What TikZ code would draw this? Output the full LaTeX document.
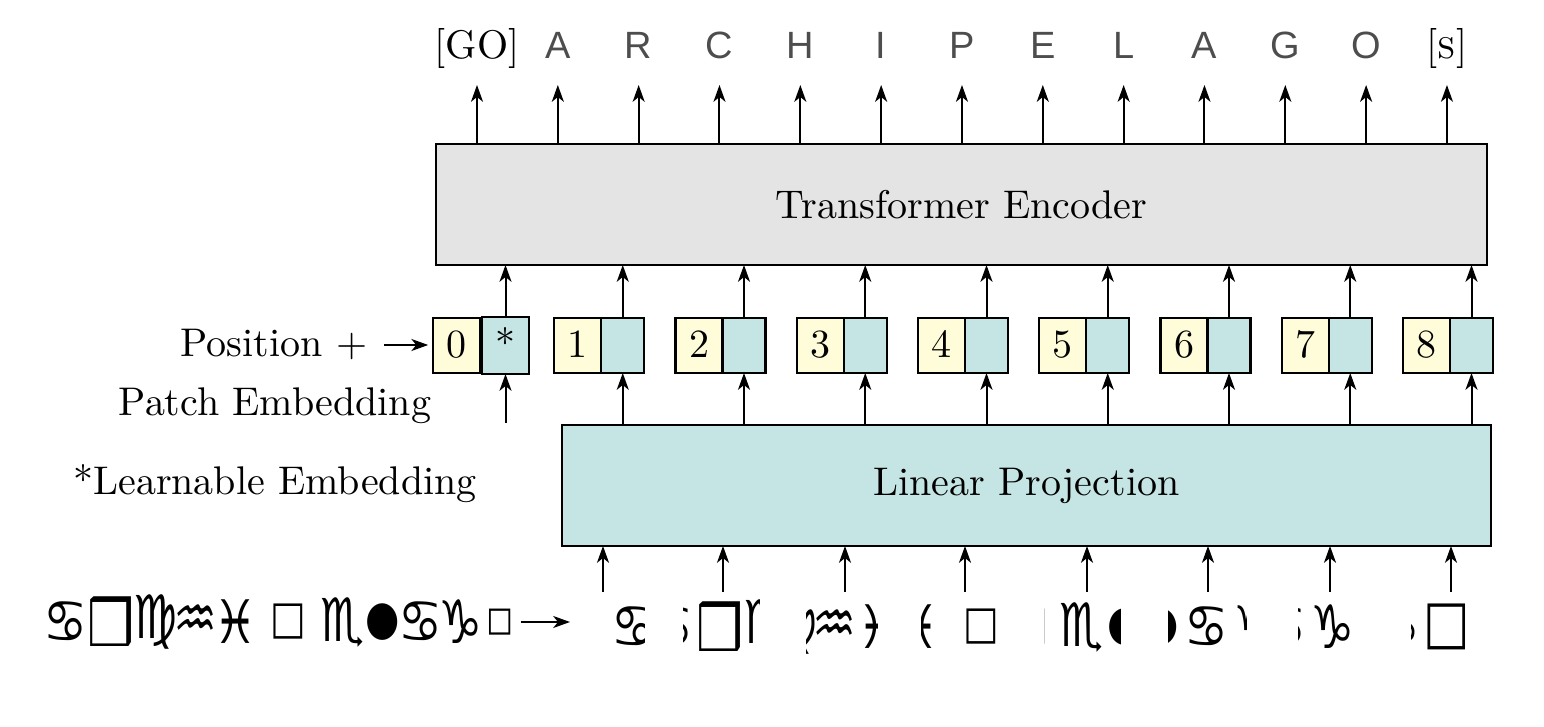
\documentclass[tikz,border=0pt]{standalone}
\usepackage{fontspec}
\newfontfamily\symfont[FakeStretch=0.82]{DejaVu Sans}
\newfontfamily\letterfont{Liberation Sans}
\usetikzlibrary{arrows.meta}

\definecolor{encgray}{HTML}{E4E4E4}
\definecolor{patchteal}{HTML}{C5E5E4}
\definecolor{posyellow}{HTML}{FFFCD9}
\definecolor{lettergray}{HTML}{4D4D4D}

% wingding-like letters of the input word
\newcommand\gbox{{\fontsize{16}{16}\selectfont ❒}}
\newcommand\gsq{{\fontsize{11.5}{12}\selectfont □}}
\newcommand\gbigsq{{\fontsize{15}{15}\selectfont □}}
\newcommand\gsmsq{{\fontsize{10}{10}\selectfont ◻}}
\newcommand\gdot{{\fontsize{12}{12}\selectfont ●}}

\tikzset{
  block/.style={draw, line width=0.6pt, inner sep=0pt, outer sep=0pt, anchor=north west},
  posbox/.style={block, fill=posyellow, minimum width=11.75pt, minimum height=13.75pt,
    text height=6.5pt, text depth=0.3pt},
  embbox/.style={block, fill=patchteal, minimum width=10.75pt, minimum height=13.75pt,
    text height=6.5pt, text depth=0.3pt},
  glyph/.style={inner sep=0pt, font=\symfont\fontsize{15}{15}\selectfont},
  outchar/.style={anchor=base, inner sep=0pt, font=\letterfont\fontsize{9.5}{10}\selectfont, text=lettergray},
}

\begin{document}
\begin{tikzpicture}[x=0.25pt, y=-0.25pt, line width=0.5pt,
    >={Stealth[length=4.2pt, width=3pt, inset=1.2pt]}]
\useasboundingbox (0,0) rectangle (1544,727);

% encoder and projection
\node[block, fill=encgray, minimum width=262.75pt, minimum height=30.25pt] (enc) at (436,144) {Transformer Encoder};
\node[block, fill=patchteal, minimum width=232.25pt, minimum height=30.25pt] (proj) at (562,425) {Linear Projection};

% output tokens
\node[anchor=base, inner sep=0pt] (go) at (477,59) {[GO]};
\foreach \t [count=\j] in {A,R,C,H,I,P,E,L,A,G,O}
  \node[outchar] (out\j) at (477+80.83*\j,59) {\t};
\node[anchor=base, inner sep=0pt] (eos) at (1447,59) {[\textsc{s}]};
\foreach \j in {0,...,12} {
  \coordinate (tip\j) at (477+80.83*\j,85);
  \draw[->] (enc.north -| tip\j) -- (tip\j);
}

% position + patch embeddings
\node[posbox] (p0) at (433,318) {0};
\node[embbox, minimum width=11.75pt, minimum height=14.25pt, line width=0.7pt] (e0) at (482,317) {*};
\foreach \k in {1,...,8} {
  \node[posbox] (p\k) at (433+121.25*\k,318) {\k};
  \node[embbox] (e\k) at (p\k.north east) {};
}
\foreach \k in {0,...,8}
  \draw[->] (e\k.north) -- (e\k.north |- enc.south);
\foreach \k in {1,...,8}
  \draw[->] (e\k.south |- proj.north) -- (e\k.south);
\coordinate (starin) at (505.5,423);
\draw[->] (e0.south |- starin) -- (e0.south);

% left labels
\node[anchor=base, inner xsep=4pt] (poslbl) at (274,357) {Position +};
\draw[->, shorten >=1.2pt] (poslbl.east) -- (poslbl.east -| p0.west);
\node[anchor=base] (patchlbl) at (275,415) {Patch Embedding};
\node[anchor=base] (learnlbl) at (275,495) {*Learnable Embedding};

% input word
\foreach \g/\x [count=\i] in {♋/66,\gbox/111,♍/156,♒/196,♓/236,\gsq/288,♏/343,\gdot/383,♋/421,♑/461,\gsmsq/500}
  \node[glyph] (src\i) at (\x,622) {\g};
\coordinate (srcend) at (570,627);
\draw[->, shorten <=1.5pt] (src11.east) -- (src11.east -| srcend);

% patches
\foreach \k/\l/\r/\c/\gs in {
    1/612/644/603/{♋/634},
    2/683/759/723/{♋/672,\gbox/720,♍/766},
    3/806/877/845/{♍/796,♒/835,♓/880},
    4/921/999/965/{♓/918,\gsq/981},
    5/1044/1120/1087/{\gsq/1030,♏/1082,\gdot/1125},
    6/1168/1246/1208/{\gdot/1162,♋/1207,♑/1256},
    7/1298/1358/1330/{♋/1285,♑/1333},
    8/1411/1472/1451/{♑/1398,\gbigsq/1447}} {
  \begin{scope}
    \clip (\l,594) rectangle (\r,665);
    \foreach \g/\x [count=\i] in \gs
      \node[glyph] (patch\k-\i) at (\x,627) {\g};
  \end{scope}
  \coordinate (pin\k) at (\c,592);
  \draw[->] (pin\k) -- (pin\k |- proj.south);
}
\end{tikzpicture}
\end{document}
